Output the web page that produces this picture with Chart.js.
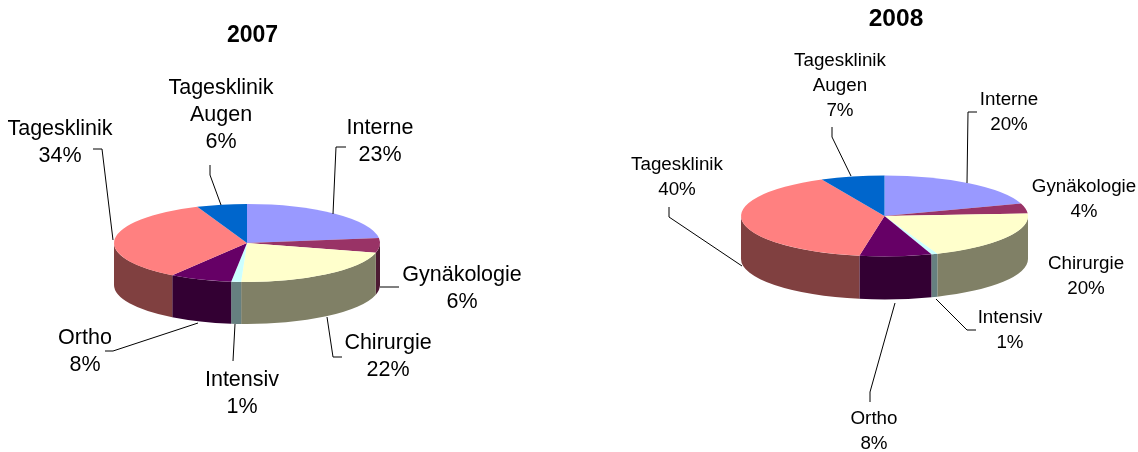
<!DOCTYPE html>
<html>
<head>
<meta charset="utf-8">
<title>2007 / 2008</title>
<script src="https://cdn.jsdelivr.net/npm/chart.js@4/dist/chart.umd.min.js"></script>
<style>
html, body { margin: 0; padding: 0; background: #fff; }
#page { position: relative; width: 1138px; height: 452px; overflow: hidden; }
canvas { position: absolute; top: 0; }
#pie2007 { left: 0; }
#pie2008 { left: 569px; }
</style>
</head>
<body>
<div id="page">
    <canvas id="pie2007" width="569" height="452"></canvas>
    <canvas id="pie2008" width="569" height="452"></canvas>
</div>
<script>
var categories = ['Interne', 'Gynäkologie', 'Chirurgie', 'Intensiv', 'Ortho', 'Tagesklinik', 'Tagesklinik Augen'];
var values2007 = [23, 6, 21.7, 1.2, 7.6, 34.4, 6.1];
var values2008 = [20, 4, 20, 0.7, 8.1, 40, 7.2];

var topColors = ['#9999FF', '#993366', '#FFFFCC', '#CCFFFF', '#660066', '#FF8080', '#0066CC'];
var wallColors = ['#4D4D80', '#4D1A33', '#808066', '#668080', '#330033', '#804040', '#003366'];

// page coordinates: [centre x, first line y] per category
var labelPlaces2007 = [[380, 128], [462, 275], [388, 343], [242, 380], [85, 338], [60, 129], [221, 88]];
var labelPlaces2008 = [[1009, 100], [1084, 187], [1086, 264], [1010, 318], [874, 419], [677, 165], [840, 61]];

var leaders2007 = [
    [[346, 147], [336, 147], [333, 214]],
    [[399, 287], [380, 287]],
    [[342, 357], [333, 357], [327, 317]],
    [[233, 361], [235, 324]],
    [[105, 351], [113, 351], [198, 323]],
    [[93, 149], [102, 149], [113, 240]],
    [[210, 165], [210, 175], [221, 205]]
];
var leaders2008 = [
    [[977, 112], [968, 112], [967, 183]],
    [[976, 330], [967, 330], [936, 299]],
    [[870, 402], [870, 392], [895, 303]],
    [[669, 207], [669, 217], [742, 266]],
    [[832, 127], [832, 137], [851, 176]]
];

var tiltPlugin = {
    id: 'tilt',
    beforeDatasetsDraw: function(chart, args, opts) {
        var ctx = chart.ctx;
        var arcs = chart.getDatasetMeta(0).data;
        var cx = arcs[0].x;
        var cy = arcs[0].y;
        var rx = arcs[0].outerRadius;
        var ry = opts.ry;

        // the visible rim, front half only
        arcs.forEach(function(arc, i) {
            var a0 = Math.max(arc.startAngle, 0);
            var a1 = Math.min(arc.endAngle, Math.PI);
            if (a1 <= a0) {
                return;
            }
            ctx.beginPath();
            ctx.ellipse(cx, cy, rx, ry, 0, a0, a1);
            ctx.ellipse(cx, cy + opts.depth, rx, ry, 0, a1, a0, true);
            ctx.closePath();
            ctx.fillStyle = wallColors[i];
            ctx.fill();
        });

        ctx.save();
        ctx.translate(cx, cy);
        ctx.scale(1, ry / rx);
        ctx.translate(-cx, -cy);
    },
    afterDatasetsDraw: function(chart) {
        chart.ctx.restore();
    }
};

var textPlugin = {
    id: 'pieText',
    afterDraw: function(chart, args, opts) {
        var ctx = chart.ctx;
        var values = chart.data.datasets[0].data;
        ctx.save();
        ctx.translate(-opts.left, 0);
        ctx.fillStyle = '#000';
        ctx.textAlign = 'center';
        ctx.textBaseline = 'middle';

        ctx.font = 'bold ' + opts.titleSize + 'px "Liberation Sans"';
        ctx.fillText(opts.title, opts.titleX, opts.titleY);

        ctx.font = opts.fontSize + 'px "Liberation Sans"';
        categories.forEach(function(name, i) {
            var lines = name === 'Tagesklinik Augen' ? ['Tagesklinik', 'Augen'] : [name];
            lines.push(Math.round(values[i]) + '%');
            lines.forEach(function(line, k) {
                ctx.fillText(line, opts.places[i][0], opts.places[i][1] + k * opts.lineHeight);
            });
        });

        ctx.strokeStyle = '#000';
        ctx.lineWidth = 1;
        opts.leaders.forEach(function(pts) {
            ctx.beginPath();
            pts.forEach(function(p, k) {
                if (k === 0) {
                    ctx.moveTo(p[0], p[1]);
                } else {
                    ctx.lineTo(p[0], p[1]);
                }
            });
            ctx.stroke();
        });
        ctx.restore();
    }
};

function makePie(id, values, padding, tilt, text) {
    return new Chart(document.getElementById(id), {
        type: 'pie',
        data: {
            labels: categories,
            datasets: [{
                data: values,
                backgroundColor: topColors,
                borderWidth: 0
            }]
        },
        options: {
            responsive: false,
            animation: false,
            devicePixelRatio: 1,
            layout: { padding: padding },
            plugins: {
                legend: { display: false },
                tooltip: { enabled: false },
                tilt: tilt,
                pieText: text
            }
        },
        plugins: [tiltPlugin, textPlugin]
    });
}

makePie('pie2007', values2007,
    { left: 114, right: 189, top: 110, bottom: 76 },
    { ry: 39, depth: 42 },
    { left: 0, title: '2007', titleX: 252.5, titleY: 35.5, titleSize: 23, fontSize: 21.5, lineHeight: 27,
      places: labelPlaces2007, leaders: leaders2007 });

makePie('pie2008', values2008,
    { left: 172, right: 110, top: 72.5, bottom: 92.5 },
    { ry: 40.5, depth: 43 },
    { left: 569, title: '2008', titleX: 896, titleY: 19, titleSize: 24.5, fontSize: 18.8, lineHeight: 25,
      places: labelPlaces2008, leaders: leaders2008 });
</script>
</body>
</html>
